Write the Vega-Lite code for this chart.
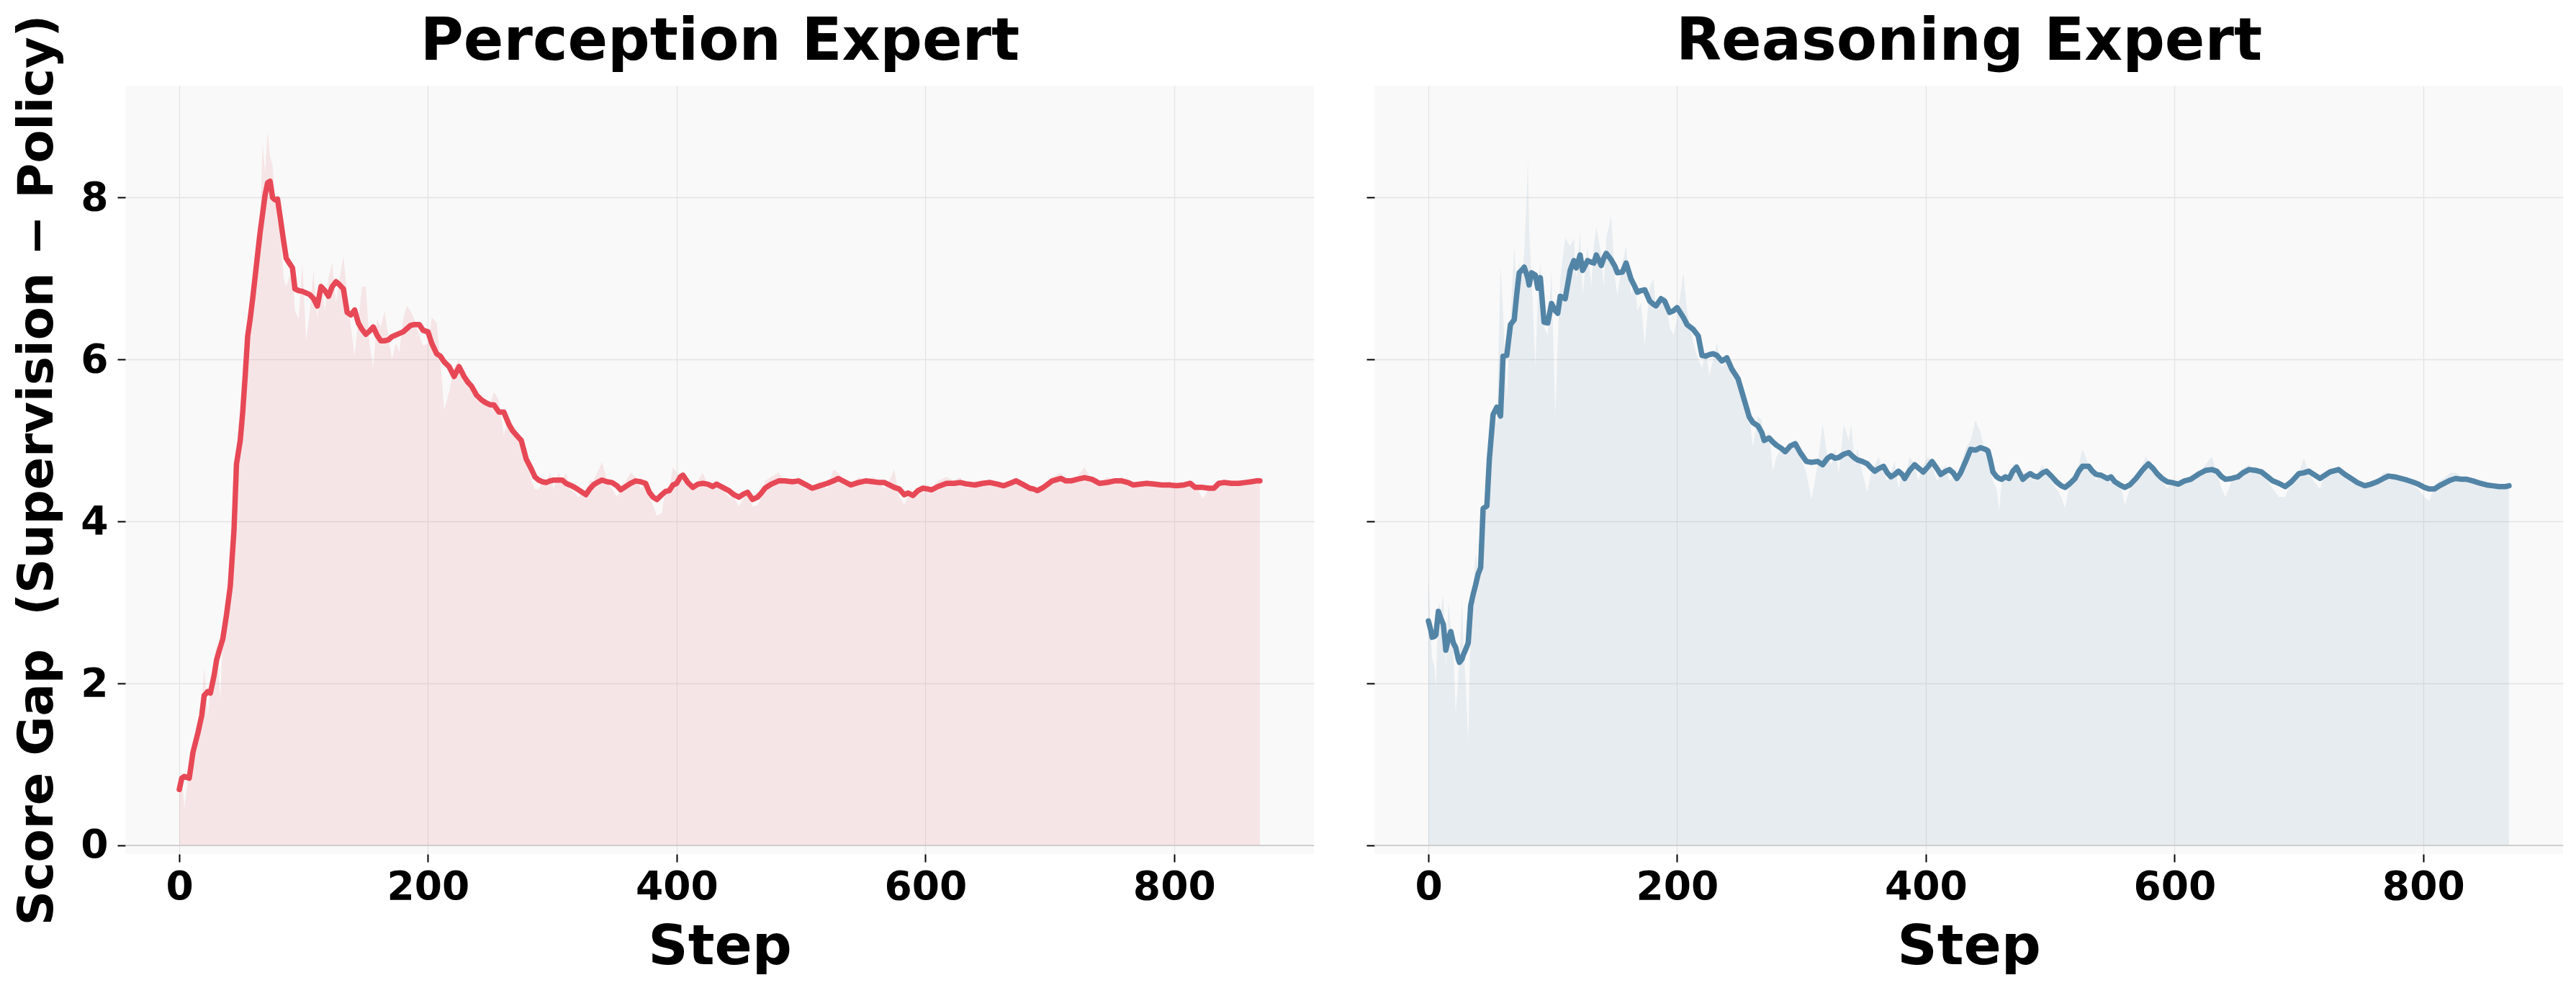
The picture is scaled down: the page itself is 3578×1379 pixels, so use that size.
{
"$schema": "https://vega.github.io/schema/vega-lite/v6.json",
"background": "white",
"padding": {"left": 18, "top": 16, "right": 0, "bottom": 0},
"bounds": "flush",
"spacing": 84,
"config": {
  "font": "DejaVu Sans",
  "view": {"fill": "#F9F9F9", "stroke": null},
  "axis": {
    "labelFont": "DejaVu Sans", "labelFontWeight": "bold", "labelFontSize": 55, "labelColor": "#000000",
    "titleFont": "DejaVu Sans", "titleFontWeight": "bold", "titleColor": "#000000",
    "tickColor": "#000000", "tickSize": 11, "tickWidth": 2,
    "domain": false, "grid": true, "gridColor": "#E4E4E4", "gridWidth": 1.3
  }
},
"datasets": {
"perc": [
{"step":0,"smooth":0.69,"raw":0.6},{"step":2,"smooth":0.83,"raw":0.9},{"step":4,"smooth":0.85,"raw":0.45},{"step":8,"smooth":0.83,"raw":0.95},
{"step":11,"smooth":1.15,"raw":1.2},{"step":15,"smooth":1.39,"raw":1.5},{"step":18,"smooth":1.6,"raw":1.7},{"step":20,"smooth":1.85,"raw":2.2},
{"step":23,"smooth":1.9,"raw":1.6},{"step":25,"smooth":1.88,"raw":2.0},{"step":28,"smooth":2.1,"raw":2.3},{"step":30,"smooth":2.29,"raw":2.5},
{"step":33,"smooth":2.45,"raw":1.8},{"step":35,"smooth":2.55,"raw":2.6},{"step":38,"smooth":2.85,"raw":3.0},{"step":41,"smooth":3.2,"raw":3.3},
{"step":44,"smooth":3.9,"raw":4.1},{"step":46,"smooth":4.71,"raw":4.8},{"step":49,"smooth":5.0,"raw":5.1},{"step":51,"smooth":5.35,"raw":5.5},
{"step":53,"smooth":5.8,"raw":5.9},{"step":55,"smooth":6.29,"raw":6.4},{"step":57,"smooth":6.5,"raw":6.6},{"step":59,"smooth":6.75,"raw":7.0},
{"step":62,"smooth":7.16,"raw":7.5},{"step":65,"smooth":7.57,"raw":7.7},{"step":67,"smooth":7.8,"raw":8.68},{"step":69,"smooth":8.03,"raw":8.3},
{"step":71,"smooth":8.18,"raw":8.82},{"step":73,"smooth":8.2,"raw":8.5},{"step":75,"smooth":8.0,"raw":8.4},{"step":77,"smooth":7.97,"raw":8.0},
{"step":79,"smooth":7.98,"raw":7.7},{"step":81,"smooth":7.77,"raw":7.6},{"step":84,"smooth":7.45,"raw":7.0},{"step":86,"smooth":7.25,"raw":6.9},
{"step":88,"smooth":7.2,"raw":7.0},{"step":91,"smooth":7.13,"raw":7.1},{"step":93,"smooth":6.87,"raw":6.6},{"step":96,"smooth":6.85,"raw":6.5},
{"step":99,"smooth":6.84,"raw":7.2},{"step":102,"smooth":6.82,"raw":6.23},{"step":105,"smooth":6.8,"raw":6.6},{"step":108,"smooth":6.75,"raw":7.1},
{"step":111,"smooth":6.66,"raw":6.5},{"step":114,"smooth":6.9,"raw":7.0},{"step":117,"smooth":6.85,"raw":6.6},{"step":120,"smooth":6.78,"raw":7.0},
{"step":123,"smooth":6.9,"raw":7.2},{"step":126,"smooth":6.96,"raw":6.7},{"step":129,"smooth":6.92,"raw":7.0},{"step":132,"smooth":6.87,"raw":7.28},
{"step":135,"smooth":6.58,"raw":6.8},{"step":138,"smooth":6.55,"raw":6.4},{"step":141,"smooth":6.61,"raw":6.05},{"step":144,"smooth":6.45,"raw":6.5},
{"step":147,"smooth":6.37,"raw":6.9},{"step":150,"smooth":6.31,"raw":6.9},{"step":153,"smooth":6.35,"raw":6.2},{"step":156,"smooth":6.4,"raw":5.9},
{"step":159,"smooth":6.3,"raw":6.5},{"step":162,"smooth":6.23,"raw":6.4},{"step":165,"smooth":6.23,"raw":6.6},{"step":168,"smooth":6.24,"raw":6.3},
{"step":171,"smooth":6.28,"raw":6.0},{"step":174,"smooth":6.3,"raw":6.2},{"step":177,"smooth":6.32,"raw":6.1},{"step":180,"smooth":6.34,"raw":6.5},
{"step":183,"smooth":6.38,"raw":6.66},{"step":186,"smooth":6.42,"raw":6.6},{"step":189,"smooth":6.43,"raw":6.5},{"step":193,"smooth":6.43,"raw":6.3},
{"step":196,"smooth":6.36,"raw":6.17},{"step":200,"smooth":6.34,"raw":6.2},{"step":203,"smooth":6.2,"raw":6.52},{"step":207,"smooth":6.07,"raw":6.45},
{"step":210,"smooth":6.04,"raw":6.0},{"step":213,"smooth":5.97,"raw":5.38},{"step":217,"smooth":5.91,"raw":5.6},{"step":221,"smooth":5.79,"raw":5.9},
{"step":225,"smooth":5.91,"raw":6.0},{"step":229,"smooth":5.79,"raw":5.8},{"step":232,"smooth":5.72,"raw":5.75},{"step":235,"smooth":5.67,"raw":5.6},
{"step":239,"smooth":5.56,"raw":5.5},{"step":243,"smooth":5.5,"raw":5.45},{"step":246,"smooth":5.47,"raw":5.5},{"step":250,"smooth":5.44,"raw":5.45},
{"step":253,"smooth":5.44,"raw":5.6},{"step":257,"smooth":5.35,"raw":5.5},{"step":261,"smooth":5.35,"raw":5.06},{"step":265,"smooth":5.2,"raw":5.3},
{"step":268,"smooth":5.12,"raw":5.2},{"step":272,"smooth":5.05,"raw":5.1},{"step":275,"smooth":5.0,"raw":5.0},{"step":279,"smooth":4.77,"raw":4.8},
{"step":283,"smooth":4.65,"raw":4.5},{"step":286,"smooth":4.55,"raw":4.4},{"step":289,"smooth":4.51,"raw":4.39},{"step":292,"smooth":4.49,"raw":4.5},
{"step":295,"smooth":4.48,"raw":4.45},{"step":298,"smooth":4.5,"raw":4.6},{"step":301,"smooth":4.51,"raw":4.4},{"step":305,"smooth":4.51,"raw":4.6},
{"step":308,"smooth":4.51,"raw":4.5},{"step":311,"smooth":4.47,"raw":4.6},{"step":314,"smooth":4.45,"raw":4.4},{"step":318,"smooth":4.42,"raw":4.35},
{"step":321,"smooth":4.39,"raw":4.3},{"step":324,"smooth":4.36,"raw":4.35},{"step":327,"smooth":4.33,"raw":4.3},{"step":330,"smooth":4.4,"raw":4.5},
{"step":333,"smooth":4.45,"raw":4.5},{"step":336,"smooth":4.48,"raw":4.6},{"step":340,"smooth":4.51,"raw":4.73},{"step":344,"smooth":4.49,"raw":4.5},
{"step":348,"smooth":4.48,"raw":4.4},{"step":352,"smooth":4.44,"raw":4.3},{"step":355,"smooth":4.39,"raw":4.4},{"step":359,"smooth":4.43,"raw":4.5},
{"step":363,"smooth":4.47,"raw":4.6},{"step":367,"smooth":4.5,"raw":4.55},{"step":371,"smooth":4.49,"raw":4.4},{"step":375,"smooth":4.47,"raw":4.5},
{"step":378,"smooth":4.36,"raw":4.3},{"step":381,"smooth":4.3,"raw":4.2},{"step":384,"smooth":4.27,"raw":4.07},{"step":388,"smooth":4.33,"raw":4.1},
{"step":391,"smooth":4.37,"raw":4.4},{"step":394,"smooth":4.38,"raw":4.4},{"step":397,"smooth":4.45,"raw":4.67},{"step":400,"smooth":4.47,"raw":4.6},
{"step":403,"smooth":4.55,"raw":4.5},{"step":405,"smooth":4.57,"raw":4.6},{"step":409,"smooth":4.48,"raw":4.5},{"step":413,"smooth":4.42,"raw":4.4},
{"step":417,"smooth":4.46,"raw":4.5},{"step":421,"smooth":4.47,"raw":4.6},{"step":425,"smooth":4.46,"raw":4.45},{"step":429,"smooth":4.43,"raw":4.4},
{"step":432,"smooth":4.46,"raw":4.5},{"step":437,"smooth":4.42,"raw":4.4},{"step":442,"smooth":4.38,"raw":4.3},{"step":446,"smooth":4.33,"raw":4.3},
{"step":450,"smooth":4.3,"raw":4.18},{"step":454,"smooth":4.34,"raw":4.3},{"step":457,"smooth":4.36,"raw":4.4},{"step":461,"smooth":4.27,"raw":4.18},
{"step":465,"smooth":4.3,"raw":4.2},{"step":468,"smooth":4.35,"raw":4.3},{"step":471,"smooth":4.41,"raw":4.5},{"step":476,"smooth":4.46,"raw":4.55},
{"step":482,"smooth":4.5,"raw":4.6},{"step":487,"smooth":4.5,"raw":4.5},{"step":493,"smooth":4.49,"raw":4.5},{"step":498,"smooth":4.5,"raw":4.55},
{"step":503,"smooth":4.46,"raw":4.4},{"step":509,"smooth":4.41,"raw":4.4},{"step":515,"smooth":4.44,"raw":4.5},{"step":521,"smooth":4.47,"raw":4.4},
{"step":526,"smooth":4.5,"raw":4.64},{"step":530,"smooth":4.53,"raw":4.6},{"step":535,"smooth":4.49,"raw":4.5},{"step":540,"smooth":4.45,"raw":4.4},
{"step":546,"smooth":4.48,"raw":4.55},{"step":552,"smooth":4.5,"raw":4.5},{"step":558,"smooth":4.49,"raw":4.55},{"step":563,"smooth":4.48,"raw":4.5},
{"step":567,"smooth":4.48,"raw":4.4},{"step":571,"smooth":4.45,"raw":4.5},{"step":575,"smooth":4.42,"raw":4.64},{"step":579,"smooth":4.4,"raw":4.3},
{"step":583,"smooth":4.33,"raw":4.21},{"step":586,"smooth":4.35,"raw":4.3},{"step":590,"smooth":4.32,"raw":4.3},{"step":594,"smooth":4.38,"raw":4.4},
{"step":598,"smooth":4.41,"raw":4.45},{"step":602,"smooth":4.4,"raw":4.45},{"step":605,"smooth":4.39,"raw":4.4},{"step":610,"smooth":4.43,"raw":4.5},
{"step":617,"smooth":4.47,"raw":4.55},{"step":623,"smooth":4.47,"raw":4.5},{"step":628,"smooth":4.48,"raw":4.55},{"step":634,"smooth":4.46,"raw":4.4},
{"step":640,"smooth":4.45,"raw":4.5},{"step":646,"smooth":4.47,"raw":4.5},{"step":652,"smooth":4.48,"raw":4.45},{"step":658,"smooth":4.46,"raw":4.5},
{"step":663,"smooth":4.44,"raw":4.4},{"step":668,"smooth":4.47,"raw":4.5},{"step":673,"smooth":4.5,"raw":4.55},{"step":678,"smooth":4.46,"raw":4.45},
{"step":684,"smooth":4.41,"raw":4.4},{"step":687,"smooth":4.4,"raw":4.35},{"step":690,"smooth":4.38,"raw":4.4},{"step":695,"smooth":4.42,"raw":4.45},
{"step":702,"smooth":4.5,"raw":4.55},{"step":709,"smooth":4.53,"raw":4.6},{"step":713,"smooth":4.5,"raw":4.5},{"step":717,"smooth":4.5,"raw":4.5},
{"step":722,"smooth":4.52,"raw":4.55},{"step":728,"smooth":4.54,"raw":4.67},{"step":734,"smooth":4.52,"raw":4.5},{"step":740,"smooth":4.47,"raw":4.45},
{"step":746,"smooth":4.48,"raw":4.55},{"step":752,"smooth":4.5,"raw":4.5},{"step":758,"smooth":4.5,"raw":4.55},{"step":763,"smooth":4.48,"raw":4.45},
{"step":767,"smooth":4.45,"raw":4.45},{"step":773,"smooth":4.46,"raw":4.5},{"step":778,"smooth":4.47,"raw":4.45},{"step":784,"smooth":4.46,"raw":4.5},
{"step":790,"smooth":4.45,"raw":4.4},{"step":796,"smooth":4.45,"raw":4.5},{"step":802,"smooth":4.44,"raw":4.4},{"step":808,"smooth":4.45,"raw":4.45},
{"step":813,"smooth":4.47,"raw":4.5},{"step":817,"smooth":4.42,"raw":4.45},{"step":823,"smooth":4.42,"raw":4.28},{"step":828,"smooth":4.41,"raw":4.4},
{"step":832,"smooth":4.41,"raw":4.45},{"step":836,"smooth":4.47,"raw":4.5},{"step":840,"smooth":4.48,"raw":4.5},{"step":846,"smooth":4.47,"raw":4.5},
{"step":852,"smooth":4.47,"raw":4.5},{"step":857,"smooth":4.48,"raw":4.5},{"step":862,"smooth":4.49,"raw":4.52},{"step":866,"smooth":4.5,"raw":4.5},
{"step":869,"smooth":4.5,"raw":4.5}
],
"reas": [
{"step":0,"smooth":2.77,"raw":3.35},{"step":2,"smooth":2.65,"raw":2.6},{"step":3,"smooth":2.57,"raw":2.3},{"step":5,"smooth":2.58,"raw":2.2},
{"step":6,"smooth":2.6,"raw":1.94},{"step":8,"smooth":2.89,"raw":3.0},{"step":10,"smooth":2.8,"raw":2.9},{"step":12,"smooth":2.73,"raw":3.1},
{"step":14,"smooth":2.41,"raw":2.2},{"step":16,"smooth":2.55,"raw":3.0},{"step":18,"smooth":2.64,"raw":2.7},{"step":20,"smooth":2.5,"raw":2.4},
{"step":22,"smooth":2.44,"raw":1.62},{"step":24,"smooth":2.3,"raw":2.1},{"step":25,"smooth":2.26,"raw":2.3},{"step":27,"smooth":2.3,"raw":3.05},
{"step":28,"smooth":2.35,"raw":2.5},{"step":30,"smooth":2.42,"raw":2.0},{"step":32,"smooth":2.5,"raw":1.27},{"step":34,"smooth":2.96,"raw":2.8},
{"step":36,"smooth":3.1,"raw":3.2},{"step":38,"smooth":3.22,"raw":3.6},{"step":40,"smooth":3.35,"raw":3.4},{"step":42,"smooth":3.43,"raw":3.5},
{"step":44,"smooth":4.16,"raw":3.9},{"step":46,"smooth":4.18,"raw":4.4},{"step":47,"smooth":4.19,"raw":4.2},{"step":49,"smooth":4.77,"raw":4.8},
{"step":50,"smooth":4.95,"raw":5.2},{"step":52,"smooth":5.32,"raw":5.4},{"step":55,"smooth":5.41,"raw":5.2},{"step":58,"smooth":5.3,"raw":7.16},
{"step":60,"smooth":6.04,"raw":6.6},{"step":63,"smooth":6.05,"raw":5.5},{"step":66,"smooth":6.43,"raw":6.5},{"step":69,"smooth":6.49,"raw":7.39},
{"step":71,"smooth":6.8,"raw":6.9},{"step":73,"smooth":7.07,"raw":7.2},{"step":75,"smooth":7.1,"raw":7.0},{"step":77,"smooth":7.14,"raw":7.3},
{"step":79,"smooth":7.05,"raw":8.0},{"step":80,"smooth":7.0,"raw":8.47},{"step":81,"smooth":6.92,"raw":7.6},{"step":83,"smooth":7.07,"raw":7.0},
{"step":86,"smooth":7.04,"raw":5.9},{"step":88,"smooth":6.88,"raw":6.8},{"step":90,"smooth":7.01,"raw":7.2},{"step":93,"smooth":6.46,"raw":6.4},
{"step":96,"smooth":6.45,"raw":6.3},{"step":99,"smooth":6.69,"raw":7.1},{"step":102,"smooth":6.6,"raw":5.29},{"step":104,"smooth":6.57,"raw":6.2},
{"step":106,"smooth":6.78,"raw":7.0},{"step":110,"smooth":6.75,"raw":7.5},{"step":114,"smooth":7.1,"raw":7.4},{"step":117,"smooth":7.22,"raw":7.5},
{"step":119,"smooth":7.13,"raw":7.0},{"step":122,"smooth":7.29,"raw":7.6},{"step":124,"smooth":7.1,"raw":6.8},{"step":128,"smooth":7.22,"raw":7.4},
{"step":131,"smooth":7.2,"raw":6.9},{"step":133,"smooth":7.19,"raw":7.4},{"step":135,"smooth":7.29,"raw":7.63},{"step":139,"smooth":7.16,"raw":7.3},
{"step":141,"smooth":7.25,"raw":6.9},{"step":143,"smooth":7.31,"raw":7.5},{"step":147,"smooth":7.23,"raw":7.77},{"step":150,"smooth":7.15,"raw":7.0},
{"step":152,"smooth":7.07,"raw":6.8},{"step":156,"smooth":7.08,"raw":7.2},{"step":159,"smooth":7.19,"raw":7.4},{"step":163,"smooth":6.99,"raw":6.8},
{"step":166,"smooth":6.9,"raw":7.0},{"step":168,"smooth":6.83,"raw":6.6},{"step":171,"smooth":6.85,"raw":6.7},{"step":174,"smooth":6.86,"raw":6.17},
{"step":178,"smooth":6.72,"raw":6.9},{"step":181,"smooth":6.68,"raw":7.0},{"step":183,"smooth":6.66,"raw":6.6},{"step":187,"smooth":6.75,"raw":6.7},
{"step":190,"smooth":6.72,"raw":6.8},{"step":194,"smooth":6.58,"raw":6.4},{"step":197,"smooth":6.6,"raw":6.3},{"step":200,"smooth":6.64,"raw":6.5},
{"step":205,"smooth":6.52,"raw":7.07},{"step":208,"smooth":6.43,"raw":6.6},{"step":213,"smooth":6.37,"raw":6.2},{"step":217,"smooth":6.29,"raw":6.0},
{"step":220,"smooth":6.05,"raw":5.9},{"step":223,"smooth":6.04,"raw":6.1},{"step":226,"smooth":6.06,"raw":5.8},{"step":229,"smooth":6.07,"raw":6.0},
{"step":232,"smooth":6.05,"raw":6.2},{"step":236,"smooth":5.98,"raw":5.9},{"step":240,"smooth":6.02,"raw":6.0},{"step":244,"smooth":5.88,"raw":5.8},
{"step":249,"smooth":5.76,"raw":5.7},{"step":254,"smooth":5.5,"raw":5.5},{"step":258,"smooth":5.29,"raw":5.3},{"step":261,"smooth":5.22,"raw":4.92},
{"step":265,"smooth":5.18,"raw":5.3},{"step":268,"smooth":5.1,"raw":5.25},{"step":270,"smooth":5.0,"raw":5.0},{"step":274,"smooth":5.03,"raw":5.1},
{"step":277,"smooth":4.98,"raw":4.62},{"step":280,"smooth":4.94,"raw":4.8},{"step":284,"smooth":4.9,"raw":4.9},{"step":287,"smooth":4.86,"raw":4.8},
{"step":291,"smooth":4.93,"raw":4.95},{"step":295,"smooth":4.96,"raw":4.9},{"step":299,"smooth":4.85,"raw":4.8},{"step":304,"smooth":4.74,"raw":4.6},
{"step":308,"smooth":4.73,"raw":4.27},{"step":313,"smooth":4.74,"raw":4.7},{"step":317,"smooth":4.7,"raw":5.2},{"step":321,"smooth":4.78,"raw":4.8},
{"step":324,"smooth":4.81,"raw":4.7},{"step":327,"smooth":4.78,"raw":4.9},{"step":330,"smooth":4.79,"raw":4.6},{"step":334,"smooth":4.83,"raw":5.2},
{"step":338,"smooth":4.85,"raw":5.0},{"step":340,"smooth":4.82,"raw":5.2},{"step":343,"smooth":4.78,"raw":4.7},{"step":345,"smooth":4.76,"raw":4.9},
{"step":349,"smooth":4.74,"raw":4.6},{"step":353,"smooth":4.71,"raw":4.36},{"step":356,"smooth":4.66,"raw":4.6},{"step":359,"smooth":4.62,"raw":4.7},
{"step":362,"smooth":4.65,"raw":4.8},{"step":366,"smooth":4.68,"raw":4.6},{"step":369,"smooth":4.6,"raw":4.5},{"step":372,"smooth":4.55,"raw":4.6},
{"step":375,"smooth":4.58,"raw":4.75},{"step":378,"smooth":4.62,"raw":4.4},{"step":381,"smooth":4.58,"raw":4.6},{"step":383,"smooth":4.53,"raw":4.5},
{"step":387,"smooth":4.63,"raw":4.8},{"step":391,"smooth":4.7,"raw":4.7},{"step":394,"smooth":4.66,"raw":4.5},{"step":398,"smooth":4.61,"raw":4.7},
{"step":402,"smooth":4.68,"raw":4.8},{"step":405,"smooth":4.74,"raw":4.7},{"step":409,"smooth":4.65,"raw":4.5},{"step":412,"smooth":4.58,"raw":4.6},
{"step":416,"smooth":4.62,"raw":4.7},{"step":419,"smooth":4.64,"raw":4.5},{"step":422,"smooth":4.6,"raw":4.55},{"step":425,"smooth":4.53,"raw":4.5},
{"step":428,"smooth":4.6,"raw":4.7},{"step":432,"smooth":4.74,"raw":4.9},{"step":436,"smooth":4.89,"raw":5.0},{"step":440,"smooth":4.88,"raw":5.25},
{"step":444,"smooth":4.91,"raw":5.1},{"step":448,"smooth":4.89,"raw":4.85},{"step":450,"smooth":4.87,"raw":4.9},{"step":452,"smooth":4.75,"raw":4.6},
{"step":454,"smooth":4.61,"raw":4.5},{"step":457,"smooth":4.55,"raw":4.4},{"step":459,"smooth":4.53,"raw":4.13},{"step":461,"smooth":4.52,"raw":4.5},
{"step":464,"smooth":4.55,"raw":4.6},{"step":467,"smooth":4.53,"raw":4.5},{"step":470,"smooth":4.62,"raw":4.7},{"step":473,"smooth":4.67,"raw":4.7},
{"step":476,"smooth":4.58,"raw":4.5},{"step":478,"smooth":4.52,"raw":4.6},{"step":481,"smooth":4.56,"raw":4.6},{"step":484,"smooth":4.59,"raw":4.6},
{"step":487,"smooth":4.56,"raw":4.5},{"step":490,"smooth":4.55,"raw":4.6},{"step":494,"smooth":4.6,"raw":4.7},{"step":497,"smooth":4.62,"raw":4.6},
{"step":501,"smooth":4.56,"raw":4.5},{"step":505,"smooth":4.49,"raw":4.4},{"step":509,"smooth":4.44,"raw":4.3},{"step":512,"smooth":4.42,"raw":4.16},
{"step":516,"smooth":4.47,"raw":4.5},{"step":520,"smooth":4.53,"raw":4.6},{"step":523,"smooth":4.62,"raw":4.7},{"step":526,"smooth":4.68,"raw":4.89},
{"step":531,"smooth":4.68,"raw":4.7},{"step":534,"smooth":4.62,"raw":4.6},{"step":537,"smooth":4.58,"raw":4.5},{"step":541,"smooth":4.57,"raw":4.6},
{"step":546,"smooth":4.53,"raw":4.5},{"step":549,"smooth":4.55,"raw":4.6},{"step":552,"smooth":4.49,"raw":4.45},{"step":556,"smooth":4.45,"raw":4.5},
{"step":560,"smooth":4.42,"raw":4.2},{"step":564,"smooth":4.45,"raw":4.4},{"step":569,"smooth":4.53,"raw":4.5},{"step":574,"smooth":4.63,"raw":4.7},
{"step":577,"smooth":4.68,"raw":4.8},{"step":579,"smooth":4.71,"raw":4.75},{"step":583,"smooth":4.65,"raw":4.6},{"step":586,"smooth":4.59,"raw":4.55},
{"step":590,"smooth":4.53,"raw":4.5},{"step":594,"smooth":4.49,"raw":4.4},{"step":598,"smooth":4.48,"raw":4.5},{"step":603,"smooth":4.46,"raw":4.45},
{"step":608,"smooth":4.5,"raw":4.5},{"step":613,"smooth":4.52,"raw":4.55},{"step":617,"smooth":4.56,"raw":4.5},{"step":620,"smooth":4.59,"raw":4.6},
{"step":625,"smooth":4.63,"raw":4.7},{"step":630,"smooth":4.64,"raw":4.8},{"step":634,"smooth":4.62,"raw":4.6},{"step":638,"smooth":4.55,"raw":4.4},
{"step":641,"smooth":4.52,"raw":4.3},{"step":646,"smooth":4.53,"raw":4.5},{"step":651,"smooth":4.55,"raw":4.6},{"step":655,"smooth":4.6,"raw":4.65},
{"step":660,"smooth":4.64,"raw":4.7},{"step":665,"smooth":4.63,"raw":4.6},{"step":670,"smooth":4.61,"raw":4.6},{"step":675,"smooth":4.55,"raw":4.5},
{"step":679,"smooth":4.5,"raw":4.4},{"step":684,"smooth":4.47,"raw":4.3},{"step":689,"smooth":4.43,"raw":4.3},{"step":694,"smooth":4.49,"raw":4.5},
{"step":700,"smooth":4.59,"raw":4.6},{"step":704,"smooth":4.6,"raw":4.78},{"step":708,"smooth":4.62,"raw":4.6},{"step":712,"smooth":4.58,"raw":4.5},
{"step":717,"smooth":4.53,"raw":4.4},{"step":721,"smooth":4.57,"raw":4.6},{"step":725,"smooth":4.61,"raw":4.65},{"step":732,"smooth":4.64,"raw":4.68},
{"step":737,"smooth":4.58,"raw":4.55},{"step":742,"smooth":4.53,"raw":4.5},{"step":747,"smooth":4.48,"raw":4.45},{"step":753,"smooth":4.44,"raw":4.4},
{"step":758,"smooth":4.46,"raw":4.5},{"step":763,"smooth":4.49,"raw":4.5},{"step":768,"smooth":4.53,"raw":4.6},{"step":772,"smooth":4.56,"raw":4.6},
{"step":777,"smooth":4.55,"raw":4.55},{"step":782,"smooth":4.53,"raw":4.5},{"step":787,"smooth":4.51,"raw":4.5},{"step":791,"smooth":4.49,"raw":4.45},
{"step":796,"smooth":4.46,"raw":4.4},{"step":801,"smooth":4.42,"raw":4.3},{"step":805,"smooth":4.4,"raw":4.25},{"step":809,"smooth":4.4,"raw":4.45},
{"step":813,"smooth":4.44,"raw":4.5},{"step":818,"smooth":4.48,"raw":4.55},{"step":822,"smooth":4.51,"raw":4.6},{"step":826,"smooth":4.53,"raw":4.6},
{"step":831,"smooth":4.52,"raw":4.55},{"step":835,"smooth":4.52,"raw":4.5},{"step":840,"smooth":4.5,"raw":4.5},{"step":846,"smooth":4.47,"raw":4.5},
{"step":851,"smooth":4.45,"raw":4.45},{"step":856,"smooth":4.44,"raw":4.4},{"step":861,"smooth":4.43,"raw":4.45},{"step":866,"smooth":4.43,"raw":4.45},
{"step":869,"smooth":4.44,"raw":4.45}
]
},
"hconcat": [
{
  "width": 1651, "height": 1067,
  "data": {"name": "perc"},
  "resolve": {"axis": {"x": "independent"}},
  "layer": [
    {"mark": {"type": "area", "color": "#E74856", "opacity": 0.11},
     "encoding": {
       "x": {"field": "step", "type": "quantitative", "scale": {"domain": [-43.45, 912.45], "nice": false, "zero": false},
             "axis": {"values": [0, 200, 400, 600, 800], "title": "Step", "titleFontSize": 77, "labelPadding": 8, "titlePadding": 18}},
       "y": {"field": "raw", "type": "quantitative", "scale": {"domain": [-0.107, 9.38], "nice": false, "zero": false},
             "axis": {"values": [0, 2, 4, 6, 8], "format": "d", "title": "Score Gap\u00a0 (Supervision \u2212 Policy)", "titleFontSize": 67, "labelPadding": 13, "titlePadding": 25}}
     }},
    {"data": {"values": [{}]}, "mark": {"type": "rule", "color": "#C9C9C9", "strokeWidth": 1.6}, "encoding": {"y": {"datum": 0}}},
    {"mark": {"type": "line", "color": "#E74856", "strokeWidth": 7.5, "strokeJoin": "round", "strokeCap": "round"},
     "encoding": {
       "x": {"field": "step", "type": "quantitative",
             "axis": {"orient": "top", "title": "Perception Expert", "titleFontSize": 82, "titleBaseline": "alphabetic", "titlePadding": 37, "labels": false, "ticks": false, "domain": false, "grid": false, "minExtent": 0}},
       "y": {"field": "smooth", "type": "quantitative"}}}
  ]
},
{
  "width": 1651, "height": 1067,
  "data": {"name": "reas"},
  "resolve": {"axis": {"x": "independent"}},
  "layer": [
    {"mark": {"type": "area", "color": "#5284A6", "opacity": 0.1},
     "encoding": {
       "x": {"field": "step", "type": "quantitative", "scale": {"domain": [-43.45, 912.45], "nice": false, "zero": false},
             "axis": {"values": [0, 200, 400, 600, 800], "title": "Step", "titleFontSize": 77, "labelPadding": 8, "titlePadding": 18}},
       "y": {"field": "raw", "type": "quantitative", "scale": {"domain": [-0.107, 9.38], "nice": false, "zero": false},
             "axis": {"values": [0, 2, 4, 6, 8], "title": null, "labels": false, "minExtent": 0}}
     }},
    {"data": {"values": [{}]}, "mark": {"type": "rule", "color": "#C9C9C9", "strokeWidth": 1.6}, "encoding": {"y": {"datum": 0}}},
    {"mark": {"type": "line", "color": "#5284A6", "strokeWidth": 7.5, "strokeJoin": "round", "strokeCap": "round"},
     "encoding": {
       "x": {"field": "step", "type": "quantitative",
             "axis": {"orient": "top", "title": "Reasoning Expert", "titleFontSize": 82, "titleBaseline": "alphabetic", "titlePadding": 37, "labels": false, "ticks": false, "domain": false, "grid": false, "minExtent": 0}},
       "y": {"field": "smooth", "type": "quantitative"}}}
  ]
}
]
}
